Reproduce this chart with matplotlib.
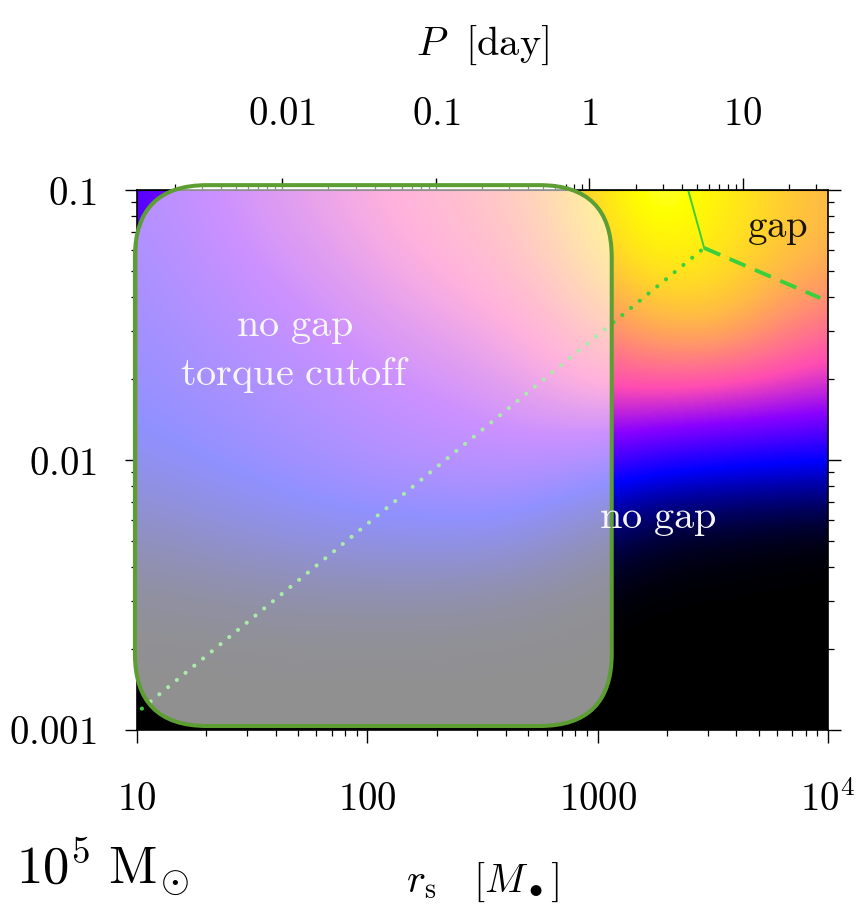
import numpy as np
import matplotlib
matplotlib.use('Agg')
import matplotlib.pyplot as plt
from matplotlib.patches import FancyBboxPatch
from matplotlib.ticker import LogLocator, NullFormatter

plt.rcParams['mathtext.fontset'] = 'cm'
plt.rcParams['font.family'] = 'serif'

# colour-map level (0..1, gnuplot2) sampled on a regular grid
# columns: log10 r_s = 1.0, 1.25, ..., 4.0 ; rows: log10 q from -1 (top) to -3 (bottom)
log_rs_nodes = [1.0, 1.25, 1.5, 1.75, 2.0, 2.25, 2.5, 2.75, 3.0, 3.25, 3.5, 3.75, 4.0]
log_q_nodes = [-1.0, -1.25, -1.5, -1.75, -2.0, -2.25, -2.5, -2.75, -3.0]
level_q_m100 = [0.36, 0.41, 0.46, 0.51, 0.56, 0.61, 0.66, 0.74, 0.87, 0.96, 0.91, 0.84, 0.78]
level_q_m125 = [0.33, 0.38, 0.43, 0.47, 0.52, 0.57, 0.62, 0.69, 0.82, 0.90, 0.88, 0.82, 0.77]
level_q_m150 = [0.30, 0.34, 0.38, 0.42, 0.46, 0.50, 0.54, 0.60, 0.70, 0.78, 0.80, 0.72, 0.64]
level_q_m175 = [0.27, 0.30, 0.33, 0.36, 0.40, 0.43, 0.46, 0.51, 0.56, 0.57, 0.55, 0.53, 0.50]
level_q_m200 = [0.22, 0.25, 0.28, 0.31, 0.34, 0.36, 0.38, 0.38, 0.35, 0.30, 0.28, 0.26, 0.25]
level_q_m225 = [0.12, 0.15, 0.18, 0.21, 0.23, 0.24, 0.24, 0.20, 0.11, 0.05, 0.03, 0.02, 0.01]
level_q_m250 = [0.03, 0.04, 0.05, 0.06, 0.06, 0.06, 0.05, 0.03, 0.01, 0.00, 0.00, 0.00, 0.00]
level_q_m275 = [0.00] * 13
level_q_m300 = [0.00] * 13

# regime boundaries
solid_rs = [2470, 2900]
solid_q = [0.1, 0.061]
dashed_rs = [2900, 9250]
dashed_q = [0.061, 0.0398]
dotted_rs = [10.5, 2900]
dotted_q = [0.0012, 0.061]

x_ticks = [10, 100, 1000, 1e4]
x_ticklabels = ['10', '100', '1000', '10^{4}']
y_ticks = [0.001, 0.01, 0.1]
y_ticklabels = ['0.001', '0.01', '0.1']
p_ticks = [0.01, 0.1, 1, 10]
p_ticklabels = ['0.01', '0.1', '1', '10']

M_BH = 1e5            # solar masses
T_SUN = 4.925e-6      # G M_sun / c^3 [s]
DAY = 86400.0


def rs_to_period(r):
    r = np.maximum(np.asarray(r, dtype=float), 1e-12)
    return 2 * np.pi * r ** 1.5 * M_BH * T_SUN / DAY


def period_to_rs(p):
    p = np.maximum(np.asarray(p, dtype=float), 1e-12)
    return (p * DAY / (2 * np.pi * M_BH * T_SUN)) ** (2.0 / 3.0)


field = np.array([level_q_m100, level_q_m125, level_q_m150, level_q_m175, level_q_m200,
                  level_q_m225, level_q_m250, level_q_m275, level_q_m300])

fig = plt.figure(figsize=(8.58, 9.08), dpi=100)
rect = [137 / 858, 1 - 730 / 908, 691 / 858, 540 / 908]

# background map drawn in log10 space on its own axes
ax_img = fig.add_axes(rect)
hx = (log_rs_nodes[1] - log_rs_nodes[0]) / 2
hy = (log_q_nodes[0] - log_q_nodes[1]) / 2
ax_img.imshow(field, cmap='gnuplot2', vmin=0, vmax=1, aspect='auto',
              interpolation='bicubic', origin='upper',
              extent=(log_rs_nodes[0] - hx, log_rs_nodes[-1] + hx,
                      log_q_nodes[-1] - hy, log_q_nodes[0] + hy))
ax_img.set_xlim(1, 4)
ax_img.set_ylim(-3, -1)
ax_img.axis('off')

ax = fig.add_axes(rect)
ax.set_facecolor('none')
ax.set_xscale('log')
ax.set_yscale('log')
ax.set_xlim(10, 1e4)
ax.set_ylim(1e-3, 0.1)

ax.plot(solid_rs, solid_q, color='#3ccf3c', lw=1.4, zorder=2)
ax.plot(dashed_rs, dashed_q, color='#3ccf3c', lw=2.8, ls=(0, (4.5, 2.6)), zorder=2)
ax.plot(dotted_rs, dotted_q, color='#3ccf3c', lw=3.0, ls=(0, (0.01, 2.7)),
        dash_capstyle='round', zorder=2)

# translucent box over the torque-cutoff region
w_px, h_px = rect[2] * 858, rect[3] * 908
rad = 72 / w_px
box = FancyBboxPatch((-0.003, 0.0074), 0.69, 1.0016,
                     boxstyle=f'round,pad=0,rounding_size={rad}',
                     mutation_aspect=w_px / h_px,
                     transform=ax.transAxes, facecolor=(1, 1, 1, 0.57),
                     edgecolor='#5c9e31', lw=2.9, clip_on=False, zorder=3)
ax.add_patch(box)

ax.text(48.5, 0.0251, '$\\mathrm{no\\ gap}$\n$\\mathrm{torque\\ cutoff}$',
        color='#f6f6f6', fontsize=29, ha='center', va='center',
        linespacing=1.3, zorder=5)
ax.text(1830, 0.0060, '$\\mathrm{no\\ gap}$', color='#f6f6f6', fontsize=29,
        ha='center', va='center', zorder=5)
ax.text(6070, 0.0723, '$\\mathrm{gap}$', color='#1a1408', fontsize=28,
        ha='center', va='center', zorder=5)

ax.set_xticks(x_ticks, labels=[f'${s}$' for s in x_ticklabels])
ax.set_yticks(y_ticks, labels=[f'${s}$' for s in y_ticklabels])
ax.xaxis.set_minor_locator(LogLocator(base=10, subs=np.arange(2, 10)))
ax.yaxis.set_minor_locator(LogLocator(base=10, subs=np.arange(2, 10)))
ax.xaxis.set_minor_formatter(NullFormatter())
ax.yaxis.set_minor_formatter(NullFormatter())
ax.tick_params(axis='x', which='both', direction='out', top=False, bottom=True,
               labelsize=28, pad=28)
ax.tick_params(axis='y', which='both', direction='out', left=True, right=True,
               labelsize=28, pad=20)
ax.tick_params(which='major', length=9, width=1.0)
ax.tick_params(which='minor', length=4.5, width=0.9)
for s in ax.spines.values():
    s.set_linewidth(1.2)

sec = ax.secondary_xaxis('top', functions=(rs_to_period, period_to_rs))
sec.set_xticks(p_ticks, labels=[f'${s}$' for s in p_ticklabels])
sec.xaxis.set_minor_locator(LogLocator(base=10, subs=np.arange(2, 10)))
sec.xaxis.set_minor_formatter(NullFormatter())
sec.tick_params(which='both', direction='out', labelsize=28, pad=32)
sec.tick_params(which='major', length=9, width=1.0)
sec.tick_params(which='minor', length=4.5, width=0.9)
sec.set_xlabel('$P\\ \\ [\\mathrm{day}]$', fontsize=29, labelpad=30)

ax.set_xlabel('$r_\\mathrm{s}\\ \\ \\ [M_\\bullet]$', fontsize=29, labelpad=30)
fig.text(16 / 858, 1 - 884 / 908, '$10^5\\ \\mathrm{M}_{\\!\\odot}$', fontsize=38,
         ha='left', va='baseline')

fig.savefig('out.png', dpi=100, facecolor='white')
